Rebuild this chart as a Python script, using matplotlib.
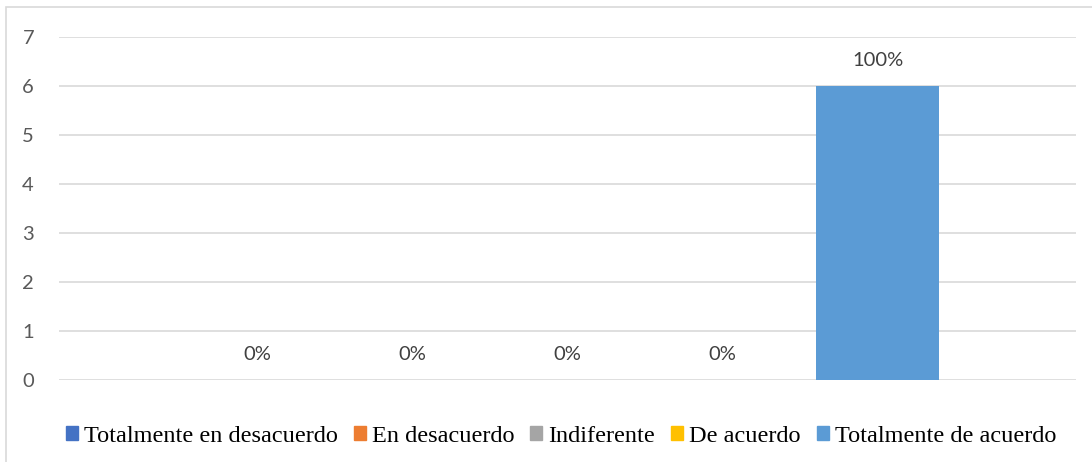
import matplotlib.pyplot as plt
from matplotlib.patches import Patch, Rectangle

# Data
series = ['Totalmente en desacuerdo', 'En desacuerdo', 'Indiferente',
          'De acuerdo', 'Totalmente de acuerdo']
values = [0, 0, 0, 0, 6]
labels = ['0%', '0%', '0%', '0%', '100%']
colors = ['#4472C4', '#ED7D31', '#A5A5A5', '#FFC000', '#5B9BD5']

fig = plt.figure(figsize=(10.92, 4.62), dpi=100)

# chart frame (cut off on right and bottom)
fig.patches.append(Rectangle((6 / 1092, -0.1), 1.2, 1 - 7 / 462 + 0.1,
                             transform=fig.transFigure, fill=False,
                             edgecolor='#d9d9d9', linewidth=1.2))

ax = fig.add_axes([59 / 1092, 1 - 380 / 462, (1076 - 59) / 1092, (380 - 37) / 462])

pos = list(range(len(series)))
for i in pos:
    ax.bar(i, values[i], width=0.79, color=colors[i], label=series[i], zorder=3)
    ax.text(i, values[i] + 0.35, labels[i], ha='center', va='bottom',
            fontsize=14.5, color='#404040', family='Lato')

ax.set_xlim(-1.28, 5.28)
ax.set_ylim(0, 7)
ax.set_yticks(range(8))
ax.set_xticks([])
ax.yaxis.grid(True, color='#d9d9d9', linewidth=1.2, zorder=0)
for s in ax.spines.values():
    s.set_visible(False)
ax.tick_params(axis='y', length=0, pad=18, labelsize=14.5, labelcolor='#595959')
for t in ax.get_yticklabels():
    t.set_family('Lato')

handles = [Patch(color=c) for c in colors]
fig.legend(handles, series, loc='center', bbox_to_anchor=(561 / 1092, 1 - 436 / 462),
           ncol=5, frameon=False, handlelength=0.5, handleheight=0.5,
           handletextpad=0.25, columnspacing=0.65,
           prop={'family': 'Liberation Serif', 'size': 17.5})

fig.savefig('out.png', dpi=100)
